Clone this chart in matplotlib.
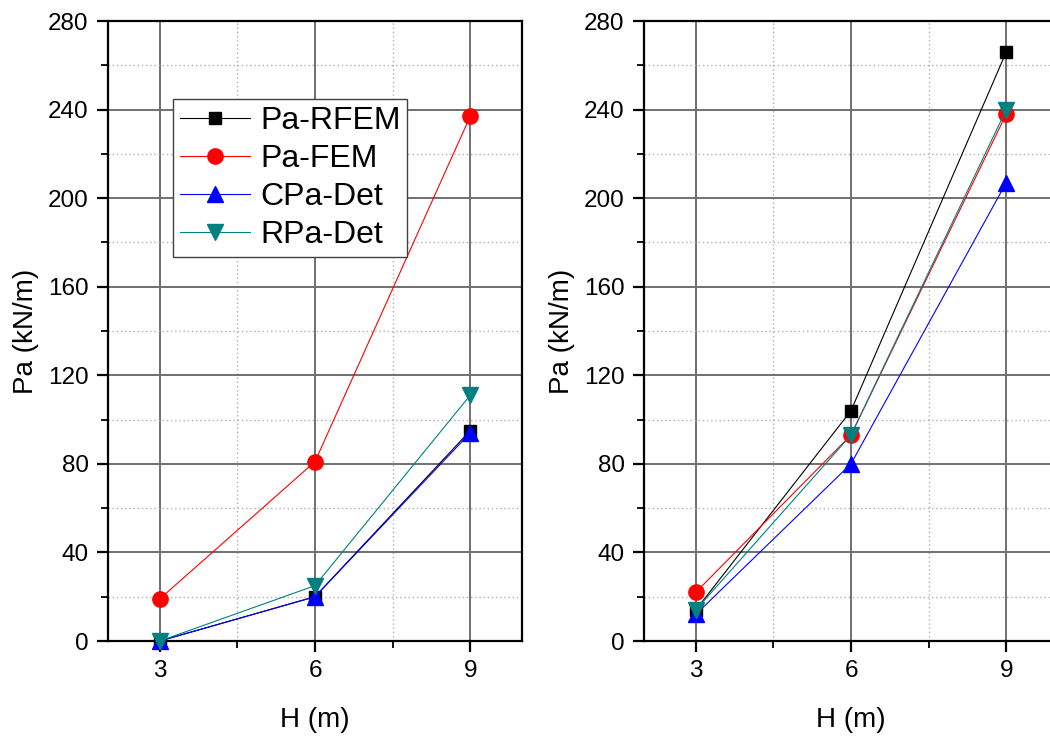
import matplotlib
matplotlib.use("Agg")
import matplotlib.pyplot as plt
from matplotlib.ticker import MultipleLocator

plt.rcParams['font.family'] = ['Liberation Sans', 'DejaVu Sans']

H = [3, 6, 9]
series_names = ["Pa-RFEM", "Pa-FEM", "CPa-Det", "RPa-Det"]

left_rfem = [0, 20, 95]
left_fem = [19, 81, 237]
left_cpa = [0, 20, 94]
left_rpa = [0, 25, 111]

right_rfem = [14, 104, 266]
right_fem = [22, 93, 238]
right_cpa = [12, 80, 207]
right_rpa = [14, 93, 240]

colors = ["#000000", "#FF0000", "#0000FF", "#008080"]
markers = ["s", "o", "^", "v"]
msizes = [9, 11, 11, 11]

fig = plt.figure(figsize=(10.5, 7.36), dpi=100)
ax1 = fig.add_axes([108/1050, 95/736, 414/1050, 620/736])
ax2 = fig.add_axes([644/1050, 95/736, 414/1050, 620/736])

def style(ax):
    ax.set_xlim(2, 10)
    ax.set_ylim(0, 280)
    ax.xaxis.set_major_locator(MultipleLocator(3))
    ax.xaxis.set_minor_locator(MultipleLocator(1.5))
    ax.yaxis.set_major_locator(MultipleLocator(40))
    ax.yaxis.set_minor_locator(MultipleLocator(20))
    ax.grid(which='major', color='#707070', lw=1.4, ls='-')
    ax.grid(which='minor', color='#b0b0b0', lw=1.0, ls=(0, (1, 2)))
    ax.set_axisbelow(True)
    ax.tick_params(which='major', direction='out', length=8, width=1.6, labelsize=17.5, pad=6)
    ax.tick_params(which='minor', direction='out', length=5, width=1.3)
    for s in ax.spines.values():
        s.set_linewidth(1.6)
    ax.set_xlabel("H (m)", fontsize=20, labelpad=18)
    ax.set_ylabel("Pa (kN/m)", fontsize=20, labelpad=6)

for ax, data in [(ax1, [left_rfem, left_fem, left_cpa, left_rpa]),
                 (ax2, [right_rfem, right_fem, right_cpa, right_rpa])]:
    for name, vals, c, m, ms in zip(series_names, data, colors, markers, msizes):
        ax.plot(H, vals, color=c, marker=m, markersize=ms, lw=0.8,
                label=name, clip_on=False, zorder=3)
    style(ax)

leg = ax1.legend(loc='upper left', bbox_to_anchor=((173 - 108) / 414, (641 - 99) / 620),
                 fontsize=23, frameon=True, fancybox=False, edgecolor='#404040',
                 handlelength=2.2, handletextpad=0.3, labelspacing=0.25,
                 borderpad=0.22, borderaxespad=0, framealpha=1)
leg.get_frame().set_linewidth(1.0)
leg.set_zorder(5)

fig.savefig("out.png", dpi=100)
